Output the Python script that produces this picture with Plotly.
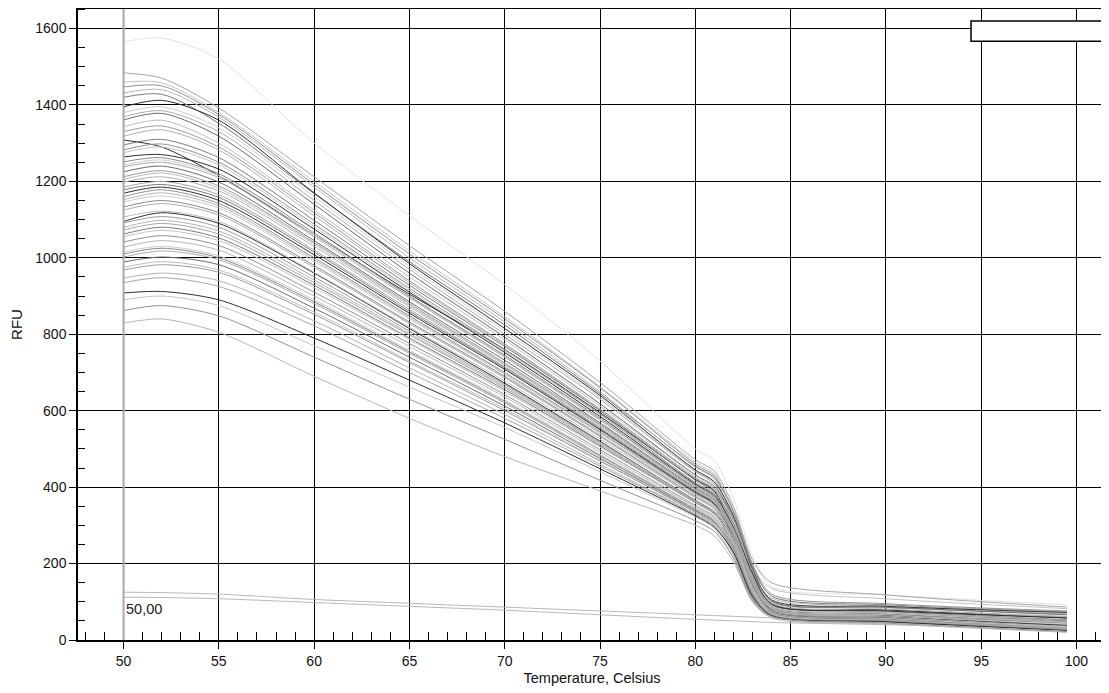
import plotly.graph_objects as go

# Temperatures (Celsius) at which each melt curve is sampled
temps = [50, 52, 55, 60, 65, 70, 75, 80, 81, 82, 83, 84, 90, 99.5]

# RFU values per well
w01 = [1484, 1470, 1392, 1212, 1032, 860, 674, 472, 442, 350, 210, 150, 118, 86]
w02 = [1460, 1458, 1380, 1200, 1018, 846, 663, 465, 435, 330, 190, 135, 108, 82]
w03 = [1447, 1450, 1375, 1192, 1010, 840, 660, 460, 430, 340, 200, 120, 95, 76]
w04 = [1431, 1440, 1368, 1185, 1000, 832, 650, 452, 422, 310, 175, 110, 90, 74]
w05 = [1395, 1412, 1360, 1170, 985, 815, 640, 445, 414, 325, 185, 105, 88, 72]
w06 = [1369, 1385, 1330, 1150, 970, 800, 630, 440, 408, 300, 160, 98, 84, 68]
w07 = [1361, 1378, 1318, 1140, 960, 792, 618, 432, 402, 320, 190, 102, 86, 66]
w08 = [1343, 1360, 1300, 1125, 950, 785, 612, 430, 398, 290, 150, 92, 80, 62]
w09 = [1330, 1345, 1290, 1118, 940, 775, 605, 425, 395, 315, 180, 96, 80, 60]
w10 = [1308, 1290, 1215, 1060, 905, 760, 595, 420, 390, 280, 150, 90, 78, 56]
w11 = [1295, 1310, 1262, 1098, 928, 768, 600, 418, 386, 305, 170, 88, 74, 54]
w12 = [1282, 1298, 1250, 1088, 920, 760, 592, 412, 382, 290, 160, 86, 72, 52]
w13 = [1264, 1270, 1232, 1075, 910, 752, 585, 408, 378, 295, 175, 94, 76, 58]
w14 = [1251, 1262, 1220, 1065, 900, 745, 580, 405, 375, 280, 150, 84, 70, 50]
w15 = [1238, 1250, 1210, 1055, 895, 740, 575, 402, 372, 290, 165, 82, 68, 48]
w16 = [1225, 1240, 1198, 1045, 885, 732, 568, 398, 368, 275, 145, 84, 68, 46]
w17 = [1212, 1228, 1188, 1040, 880, 725, 565, 395, 365, 290, 160, 80, 64, 44]
w18 = [1198, 1212, 1175, 1030, 872, 720, 560, 392, 362, 270, 140, 82, 66, 45]
w19 = [1185, 1200, 1165, 1020, 865, 715, 556, 390, 360, 285, 155, 78, 62, 42]
w20 = [1169, 1185, 1150, 1008, 855, 708, 550, 386, 356, 265, 135, 80, 64, 40]
w21 = [1160, 1178, 1142, 1000, 848, 700, 545, 383, 353, 280, 150, 76, 60, 38]
w22 = [1146, 1162, 1130, 990, 840, 695, 540, 380, 350, 260, 130, 78, 62, 42]
w23 = [1133, 1150, 1118, 980, 832, 690, 535, 376, 346, 275, 145, 74, 58, 36]
w24 = [1095, 1118, 1090, 960, 815, 672, 520, 365, 335, 260, 140, 76, 60, 38]
w25 = [1107, 1122, 1095, 962, 818, 678, 526, 372, 342, 255, 125, 72, 56, 34]
w26 = [1091, 1108, 1080, 950, 808, 668, 518, 366, 336, 265, 140, 75, 58, 36]
w27 = [1073, 1090, 1062, 935, 798, 660, 512, 362, 332, 245, 120, 70, 54, 32]
w28 = [1055, 1072, 1045, 922, 786, 650, 505, 358, 328, 260, 135, 72, 56, 34]
w29 = [1041, 1058, 1032, 910, 776, 642, 498, 352, 322, 240, 115, 68, 52, 30]
w30 = [1028, 1045, 1020, 900, 768, 636, 492, 348, 318, 252, 130, 70, 54, 32]
w31 = [1015, 1030, 1005, 890, 758, 628, 486, 345, 315, 235, 112, 66, 50, 28]
w32 = [1002, 1018, 995, 880, 750, 620, 480, 340, 310, 245, 125, 68, 52, 30]
w33 = [989, 1002, 982, 868, 740, 612, 475, 338, 308, 230, 110, 64, 48, 26]
w34 = [968, 982, 962, 852, 726, 600, 468, 334, 304, 240, 120, 66, 50, 28]
w35 = [947, 960, 940, 835, 712, 590, 460, 330, 300, 225, 105, 62, 46, 25]
w36 = [908, 912, 890, 790, 680, 568, 448, 325, 295, 230, 115, 64, 48, 25]
w37 = [890, 900, 875, 770, 662, 556, 440, 322, 292, 215, 100, 60, 44, 22]
w38 = [829, 840, 805, 690, 580, 480, 390, 300, 272, 205, 100, 58, 42, 20]
w39 = [1420, 1428, 1352, 1168, 990, 824, 645, 455, 425, 335, 195, 115, 92, 74]
w40 = [1380, 1395, 1340, 1160, 978, 808, 635, 442, 412, 310, 170, 100, 86, 70]
w41 = [1318, 1335, 1282, 1110, 935, 772, 602, 423, 393, 290, 165, 94, 80, 60]
w42 = [1275, 1290, 1243, 1082, 915, 756, 590, 410, 380, 300, 175, 90, 76, 55]
w43 = [1243, 1256, 1215, 1060, 898, 742, 578, 404, 374, 275, 150, 86, 72, 50]
w44 = [1205, 1222, 1182, 1036, 876, 722, 562, 394, 364, 285, 160, 84, 70, 46]
w45 = [1178, 1192, 1158, 1015, 860, 712, 553, 388, 358, 270, 140, 80, 66, 42]
w46 = [1152, 1170, 1136, 995, 844, 698, 542, 381, 351, 280, 150, 82, 66, 40]
w47 = [1125, 1142, 1112, 975, 828, 686, 532, 374, 344, 260, 130, 78, 62, 38]
w48 = [1080, 1098, 1070, 942, 802, 664, 515, 364, 334, 270, 140, 76, 60, 34]
w49 = [1062, 1080, 1052, 928, 790, 655, 508, 360, 330, 250, 125, 74, 58, 32]
w50 = [1010, 1025, 1000, 885, 754, 624, 483, 342, 312, 240, 118, 70, 54, 30]
w51 = [975, 990, 968, 858, 730, 605, 470, 336, 306, 235, 115, 68, 50, 28]
w52 = [935, 948, 925, 822, 700, 580, 455, 328, 298, 225, 108, 64, 48, 26]
w53 = [862, 875, 848, 740, 630, 525, 418, 312, 284, 215, 104, 62, 44, 22]
faint_top = [1565, 1575, 1520, 1300, 1110, 930, 730, 500, 470, 370, 220, 140, 118, 92]
blank_1 = [125, 124, 120, 106, 96, 86, 76, 66, 64, 62, 60, 58, 50, 40]
blank_2 = [112, 111, 108, 98, 88, 78, 66, 54, 52, 50, 48, 46, 40, 30]

wells = [w01, w39, w02, w03, w04, w40, w05, w06, w07, w08, w09, w41, w10, w11,
         w42, w12, w13, w43, w14, w15, w16, w44, w17, w18, w19, w45, w20, w21,
         w46, w22, w23, w47, w24, w25, w26, w48, w27, w49, w28, w29, w30, w31,
         w50, w32, w33, w51, w34, w35, w52, w36, w37, w53, w38]

x_ticks = [50, 55, 60, 65, 70, 75, 80, 85, 90, 95, 100]
y_ticks = [0, 200, 400, 600, 800, 1000, 1200, 1400, 1600]

greys = ["#a6a6a6", "#7c7c7c", "#c4c4c4", "#929292", "#b6b6b6", "#cdcdcd",
         "#8a8a8a", "#acacac", "#6c6c6c", "#bdbdbd", "#9c9c9c", "#b2b2b2"]
dark_ids = {id(w05), id(w10), id(w13), id(w24), id(w36), id(w20)}

fig = go.Figure()
fig.add_trace(go.Scatter(x=temps, y=faint_top, mode="lines",
                         line=dict(color="#e2e2e2", width=1, shape="spline", smoothing=0.8),
                         hoverinfo="skip"))
for b in (blank_1, blank_2):
    fig.add_trace(go.Scatter(x=temps, y=b, mode="lines",
                             line=dict(color="#b8b8b8", width=1, shape="spline", smoothing=0.8),
                             hoverinfo="skip"))
for i, w in enumerate(wells):
    col = "#303030" if id(w) in dark_ids else greys[i % len(greys)]
    fig.add_trace(go.Scatter(x=temps, y=w, mode="lines",
                             line=dict(color=col, width=1, shape="spline", smoothing=0.8),
                             hoverinfo="skip"))

# marker line at 50 and its label
fig.add_shape(type="line", x0=50, x1=50, y0=0, y1=1, yref="paper",
              line=dict(color="#a8a8a8", width=2))
fig.add_annotation(x=50, y=80, text="50,00", showarrow=False, xanchor="left",
                   yanchor="middle", font=dict(size=14.5, color="#222"))
# empty legend box
fig.add_shape(type="rect", xref="paper", yref="paper", x0=0.8687, x1=0.997,
              y0=0.949, y1=0.981, fillcolor="white", line=dict(color="black", width=1.5))

axis_common = dict(showline=True, linecolor="black", linewidth=1.5, mirror=True,
                   showgrid=True, gridcolor="black", gridwidth=1, zeroline=False,
                   ticks="outside", ticklen=7, tickcolor="black", tickwidth=1.2,
                   automargin=False, tickfont=dict(size=14))

# page body adds an 8px offset, so the figure is sized to fit the window
fig.update_layout(
    width=1101, height=685,
    margin=dict(l=70, r=3, t=1, b=53),
    paper_bgcolor="white", plot_bgcolor="white", showlegend=False,
    font=dict(family="Liberation Sans, Arial, sans-serif", size=14, color="#111"),
    xaxis=dict(range=[47.61, 101.55], tickvals=x_ticks,
               minor=dict(dtick=1, tick0=0, ticks="inside", ticklen=8, tickcolor="black", showgrid=False),
               title=dict(text="Temperature, Celsius", standoff=5, font=dict(size=14.5)),
               **axis_common),
    yaxis=dict(range=[0, 1651], tickvals=y_ticks,
               minor=dict(dtick=50, tick0=0, ticks="inside", ticklen=7, tickcolor="black", showgrid=False),
               title=dict(text="RFU", standoff=20, font=dict(size=15)),
               **axis_common),
)

fig.write_html("out.html")
